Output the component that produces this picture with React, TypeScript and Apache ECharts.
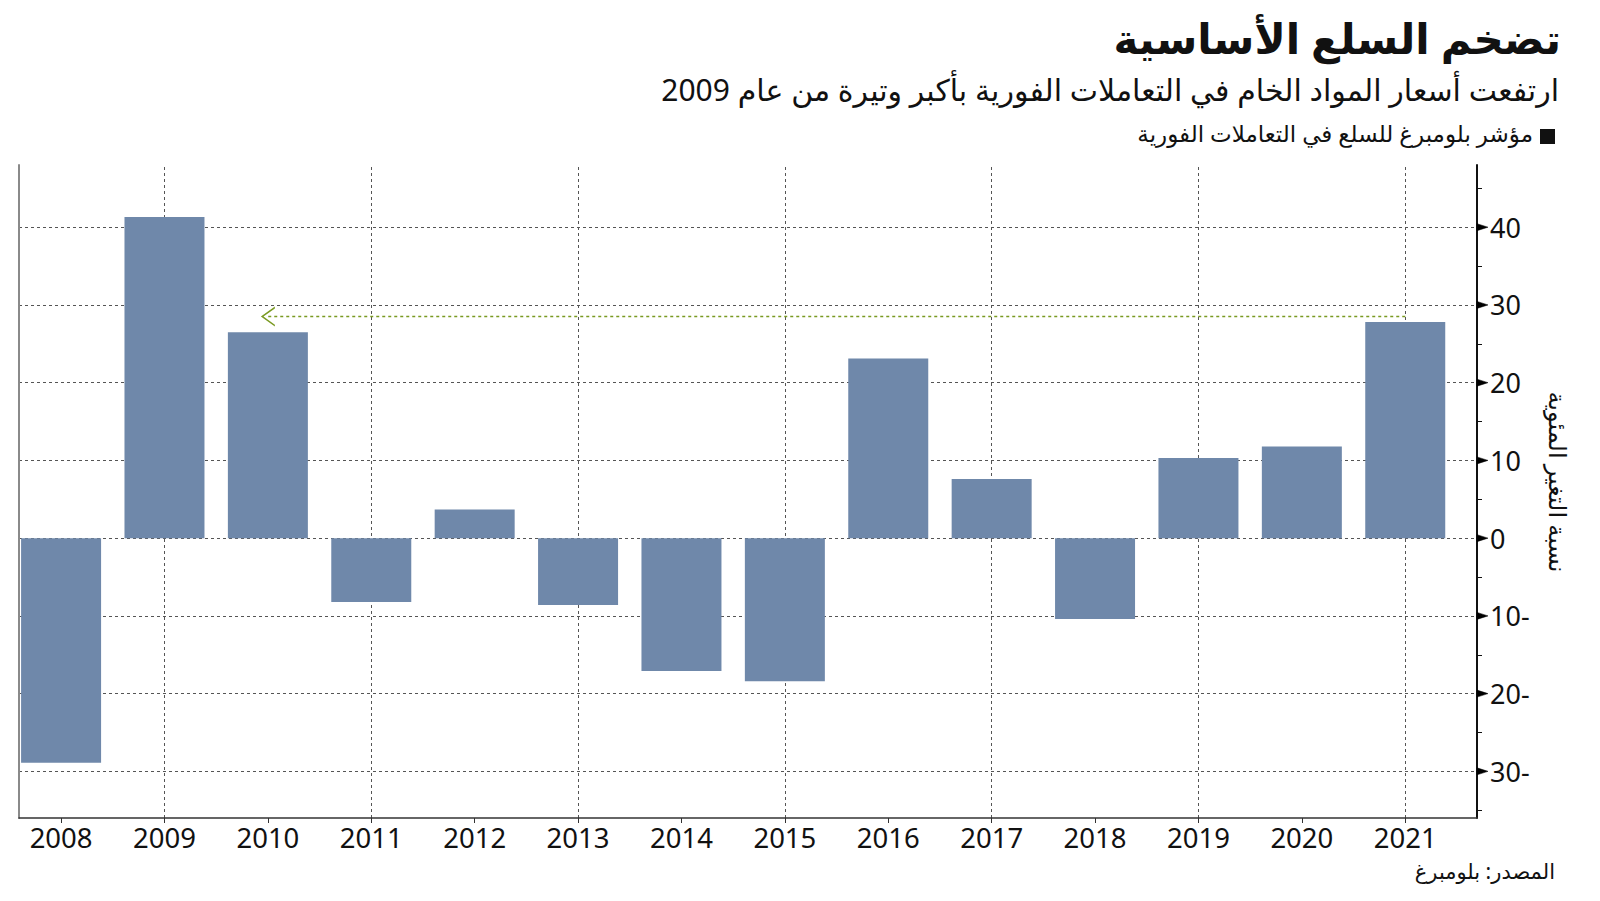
import React, { useEffect, useRef } from "react";
import * as echarts from "echarts";

// ---- data ----
const years: number[] = [2008, 2009, 2010, 2011, 2012, 2013, 2014, 2015, 2016, 2017, 2018, 2019, 2020, 2021];
const changes: number[] = [-28.9, 41.3, 26.5, -8.2, 3.7, -8.6, -17.1, -18.4, 23.1, 7.6, -10.4, 10.3, 11.8, 27.8];
const yTickValues: number[] = [-30, -20, -10, 0, 10, 20, 30, 40];
const gridYears: number[] = [2009, 2011, 2013, 2015, 2017, 2019, 2021];
const arrowStart: [number, number] = [2021, 28.5];
const arrowEnd: [number, number] = [2010, 28.5];

const titleText = "تضخم السلع الأساسية";
const subtitleText = "ارتفعت أسعار المواد الخام في التعاملات الفورية بأكبر وتيرة من عام 2009";
const legendText = "مؤشر بلومبرغ للسلع في التعاملات الفورية";
const yAxisName = "نسبة التغير المئوية";
const sourceText = "المصدر: بلومبرغ";

const X_MIN = 2007.593;
const X_MAX = 2021.694;
const Y_MIN = -36;
const Y_MAX = 48;

const FONT = "'Noto Sans', 'DejaVu Sans', sans-serif";
const BAR_COLOR = "#6f88aa";
const GRID_COLOR = "#555555";
const ARROW_COLOR = "#7a9a22";

export default function App() {
  const ref = useRef<HTMLDivElement>(null);

  useEffect(() => {
    if (!ref.current) return;
    const chart = echarts.init(ref.current, null, { renderer: "svg" });

    const textGraphics: any[] = [
      {
        type: "text",
        right: 39,
        top: 16,
        style: { text: titleText, font: `bold 42px ${FONT}`, fill: "#111111", textAlign: "right" },
      },
      {
        type: "text",
        right: 41,
        top: 74,
        style: { text: subtitleText, font: `30px ${FONT}`, fill: "#111111", textAlign: "right" },
      },
      {
        type: "rect",
        right: 45,
        top: 129,
        shape: { width: 15, height: 15 },
        style: { fill: "#111111" },
      },
      {
        type: "text",
        right: 67,
        top: 121,
        style: { text: legendText, font: `23px ${FONT}`, fill: "#111111", textAlign: "right" },
      },
      {
        type: "text",
        x: 1558,
        y: 482,
        rotation: -Math.PI / 2,
        style: {
          text: yAxisName,
          font: `24px ${FONT}`,
          fill: "#111111",
          textAlign: "center",
          textVerticalAlign: "middle",
        },
      },
      {
        type: "text",
        right: 45,
        top: 860,
        style: { text: sourceText, font: `21px ${FONT}`, fill: "#111111", textAlign: "right" },
      },
    ];

    const option: any = {
      animation: false,
      backgroundColor: "#ffffff",
      textStyle: { fontFamily: FONT },
      grid: { left: 19, right: 123, top: 165, bottom: 83, containLabel: false },
      xAxis: {
        type: "value",
        min: X_MIN,
        max: X_MAX,
        axisLine: { show: true, onZero: false, lineStyle: { color: "#333333", width: 1.5 } },
        axisTick: { show: true, customValues: years, length: 5, lineStyle: { color: "#333333", width: 1 } },
        axisLabel: {
          show: true,
          customValues: years,
          formatter: (v: number) => String(v),
          color: "#111111",
          fontSize: 27.5,
          fontFamily: FONT,
          margin: 5,
        },
        splitLine: { show: false },
      },
      yAxis: [
        {
          type: "value",
          position: "right",
          min: Y_MIN,
          max: Y_MAX,
          splitNumber: 8,
          minInterval: 10,
          maxInterval: 10,
          axisLine: { show: true, onZero: false, lineStyle: { color: "#111111", width: 2 } },
          axisTick: { show: false },
          minorTick: { show: true, splitNumber: 2, length: 5, lineStyle: { color: "#111111", width: 1 } },
          axisLabel: {
            show: true,
            margin: 13,
            color: "#111111",
            fontSize: 27,
            fontFamily: FONT,
            formatter: (v: number) => {
              if (Math.abs(v % 10) > 1e-6) return "";
              return v < 0 ? `${-v}-` : String(v);
            },
          },
          splitLine: {
            show: true,
            showMinLine: false,
            showMaxLine: false,
            lineStyle: { color: GRID_COLOR, width: 1, type: [3, 3] },
          },
        },
        {
          type: "value",
          position: "left",
          min: Y_MIN,
          max: Y_MAX,
          axisLine: { show: true, onZero: false, lineStyle: { color: "#8a8a8a", width: 2 } },
          axisTick: { show: false },
          axisLabel: { show: false },
          splitLine: { show: false },
        },
      ],
      series: [
        {
          type: "line",
          name: "vgrid",
          data: [],
          silent: true,
          markLine: {
            silent: true,
            z: 0,
            symbol: ["none", "none"],
            label: { show: false },
            lineStyle: { color: GRID_COLOR, width: 1, type: [3, 3] },
            data: gridYears.map((y) => ({ xAxis: y })),
          },
        },
        {
          type: "bar",
          name: legendText,
          data: years.map((y, i) => [y, changes[i]]),
          barWidth: 80,
          itemStyle: { color: BAR_COLOR },
          z: 2,
          markLine: {
            silent: true,
            z: 5,
            label: { show: false },
            lineStyle: { color: ARROW_COLOR, width: 1.3, type: [3, 3] },
            data: [
              [
                { coord: arrowStart, symbol: "none" },
                {
                  coord: arrowEnd,
                  symbol: "path://M0,14 L10,0 L20,14 L18.2,14 L10,2.6 L1.8,14 Z",
                  symbolSize: [20, 14],
                },
              ],
            ],
          },
        },
      ],
      graphic: textGraphics,
    };

    chart.setOption(option);

    // Major tick markers: right-pointing triangles placed through the axis scale.
    const tickMarks = yTickValues.map((v) => {
      const p = chart.convertToPixel({ xAxisIndex: 0, yAxisIndex: 0 }, [X_MAX, v]) as number[];
      const px = p[0];
      const py = p[1];
      return {
        type: "polygon",
        silent: true,
        z: 100,
        shape: { points: [[px, py - 3.5], [px + 11, py], [px, py + 3.5]] },
        style: { fill: "#000000", stroke: "#000000", lineWidth: 0.5 },
      };
    });
    chart.setOption({ graphic: [...textGraphics, ...tickMarks] });

    return () => chart.dispose();
  }, []);

  return (
    <div
      ref={ref}
      style={{ position: "fixed", left: 0, top: 0, width: "1600px", height: "901px", background: "#ffffff" }}
    />
  );
}
